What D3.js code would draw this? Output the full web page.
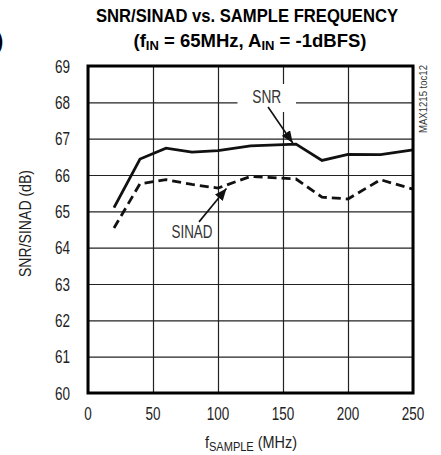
<!DOCTYPE html>
<html>
<head>
<meta charset="utf-8">
<script src="https://cdn.jsdelivr.net/npm/d3@7"></script>
<style>
  body { margin: 0; background: #fff; }
  svg { display: block; font-family: "Liberation Sans", Arial, sans-serif; }
</style>
</head>
<body>
<svg id="chart" width="441" height="455"></svg>
<script>
const fSample = [20, 40, 60, 80, 100, 125, 160, 180, 200, 225, 250];
const snr     = [65.1, 66.44, 66.74, 66.63, 66.67, 66.8, 66.85, 66.4, 66.57, 66.56, 66.69];
const sinad   = [64.54, 65.76, 65.87, 65.74, 65.64, 65.96, 65.89, 65.39, 65.34, 65.87, 65.61];
const xTicks = [0, 50, 100, 150, 200, 250];
const yTicks = [60, 61, 62, 63, 64, 65, 66, 67, 68, 69];

const svg = d3.select("#chart");
const plotL = 88, plotR = 413, plotT = 66, plotB = 393;

const x = d3.scaleLinear().domain([0, 250]).range([plotL, plotR]);
const y = d3.scaleLinear().domain([60, 69]).range([plotB, plotT]);

// arrow head
svg.append("defs").append("marker")
    .attr("id", "arrow")
    .attr("viewBox", "0 0 12 10")
    .attr("refX", 12).attr("refY", 5)
    .attr("markerWidth", 12).attr("markerHeight", 10)
    .attr("markerUnits", "userSpaceOnUse")
    .attr("orient", "auto")
    .append("path")
    .attr("d", "M0,0 L12,5 L0,10 Z")
    .attr("fill", "#111");

// grid
svg.append("g")
    .attr("transform", `translate(0,${plotB})`)
    .call(d3.axisBottom(x).tickValues(xTicks).tickSize(-(plotB - plotT)).tickFormat(""))
    .call(g => g.select(".domain").remove())
    .call(g => g.selectAll("line").attr("stroke", "#222").attr("stroke-width", 1.2));

svg.append("g")
    .attr("transform", `translate(${plotL},0)`)
    .call(d3.axisLeft(y).tickValues(yTicks).tickSize(-(plotR - plotL)).tickFormat(""))
    .call(g => g.select(".domain").remove())
    .call(g => g.selectAll("line").attr("stroke", "#222").attr("stroke-width", 1.2));

// tick labels (condensed look via textLength)
svg.append("g").selectAll("text")
    .data(yTicks)
    .enter().append("text")
    .attr("x", 70 - 15)
    .attr("y", d => y(d) + 6.5)
    .attr("font-size", 18)
    .attr("textLength", 15).attr("lengthAdjust", "spacingAndGlyphs")
    .attr("fill", "#222")
    .text(d => d);

svg.append("g").selectAll("text")
    .data(xTicks)
    .enter().append("text")
    .attr("x", d => x(d) - String(d).length * 7.5 / 2)
    .attr("y", 420)
    .attr("font-size", 18)
    .attr("textLength", d => String(d).length * 7.5).attr("lengthAdjust", "spacingAndGlyphs")
    .attr("fill", "#222")
    .text(d => d);

// label for SNR with white background cutting the grid
svg.append("rect")
    .attr("x", x(115)).attr("y", 84)
    .attr("width", x(160) - x(115)).attr("height", 28)
    .attr("fill", "#fff");

// data lines
const line = d3.line().x(d => x(d[0])).y(d => y(d[1]));

svg.append("path")
    .datum(fSample.map((f, i) => [f, snr[i]]))
    .attr("d", line)
    .attr("fill", "none")
    .attr("stroke", "#111")
    .attr("stroke-width", 2.8);

svg.append("path")
    .datum(fSample.map((f, i) => [f, sinad[i]]))
    .attr("d", line)
    .attr("fill", "none")
    .attr("stroke", "#111")
    .attr("stroke-width", 2.8)
    .attr("stroke-dasharray", "9,5");

// frame
svg.append("rect")
    .attr("x", plotL).attr("y", plotT)
    .attr("width", plotR - plotL).attr("height", plotB - plotT)
    .attr("fill", "none")
    .attr("stroke", "#000")
    .attr("stroke-width", 3);

// annotations
svg.append("text")
    .attr("x", x(137.5) - 14.5).attr("y", y(67.98))
    .attr("font-size", 19)
    .attr("textLength", 29).attr("lengthAdjust", "spacingAndGlyphs")
    .attr("fill", "#333")
    .text("SNR");
svg.append("line")
    .attr("x1", x(138.5)).attr("y1", y(67.87))
    .attr("x2", x(157.5)).attr("y2", y(66.88))
    .attr("stroke", "#111").attr("stroke-width", 1.6)
    .attr("marker-end", "url(#arrow)");

svg.append("text")
    .attr("x", x(80) - 20.5).attr("y", y(64.27))
    .attr("font-size", 19)
    .attr("textLength", 41).attr("lengthAdjust", "spacingAndGlyphs")
    .attr("fill", "#333")
    .text("SINAD");
svg.append("line")
    .attr("x1", x(85.4)).attr("y1", y(64.71))
    .attr("x2", x(106.5)).attr("y2", y(65.63))
    .attr("stroke", "#111").attr("stroke-width", 1.6)
    .attr("marker-end", "url(#arrow)");

// titles
svg.append("text")
    .attr("x", 96).attr("y", 22)
    .attr("font-size", 19).attr("font-weight", "bold")
    .attr("textLength", 302).attr("lengthAdjust", "spacingAndGlyphs")
    .text("SNR/SINAD vs. SAMPLE FREQUENCY");

const t2 = svg.append("text")
    .attr("x", 250).attr("y", 47)
    .attr("text-anchor", "middle")
    .attr("font-size", 18.5).attr("font-weight", "bold");
t2.append("tspan").text("(f");
t2.append("tspan").attr("font-size", 13).attr("dy", 3).text("IN");
t2.append("tspan").attr("dy", -3).text(" = 65MHz, A");
t2.append("tspan").attr("font-size", 13).attr("dy", 3).text("IN");
t2.append("tspan").attr("dy", -3).text(" = -1dBFS)");

// clipped label fragment at left edge, as in the source figure
svg.append("text")
    .attr("x", -4).attr("y", 48)
    .attr("font-size", 22).attr("font-weight", "bold")
    .text(")");

// x axis title, squeezed horizontally
const xt = svg.append("g")
    .attr("transform", "translate(251,448) scale(0.85,1)")
    .append("text")
    .attr("text-anchor", "middle")
    .attr("font-size", 17)
    .attr("fill", "#222");
xt.append("tspan").text("f");
xt.append("tspan").attr("font-size", 13).attr("dy", 3).text("SAMPLE");
xt.append("tspan").attr("dy", -3).text(" (MHz)");

svg.append("text")
    .attr("transform", `translate(31,${(plotT + plotB) / 2 - 6}) rotate(-90)`)
    .attr("x", -53.5)
    .attr("font-size", 17)
    .attr("textLength", 107).attr("lengthAdjust", "spacingAndGlyphs")
    .attr("fill", "#222")
    .text("SNR/SINAD (dB)");

svg.append("text")
    .attr("transform", "translate(427,99) rotate(-90)")
    .attr("x", -34)
    .attr("font-size", 11.5)
    .attr("textLength", 68).attr("lengthAdjust", "spacingAndGlyphs")
    .attr("fill", "#333")
    .text("MAX1215 toc12");
</script>
</body>
</html>
